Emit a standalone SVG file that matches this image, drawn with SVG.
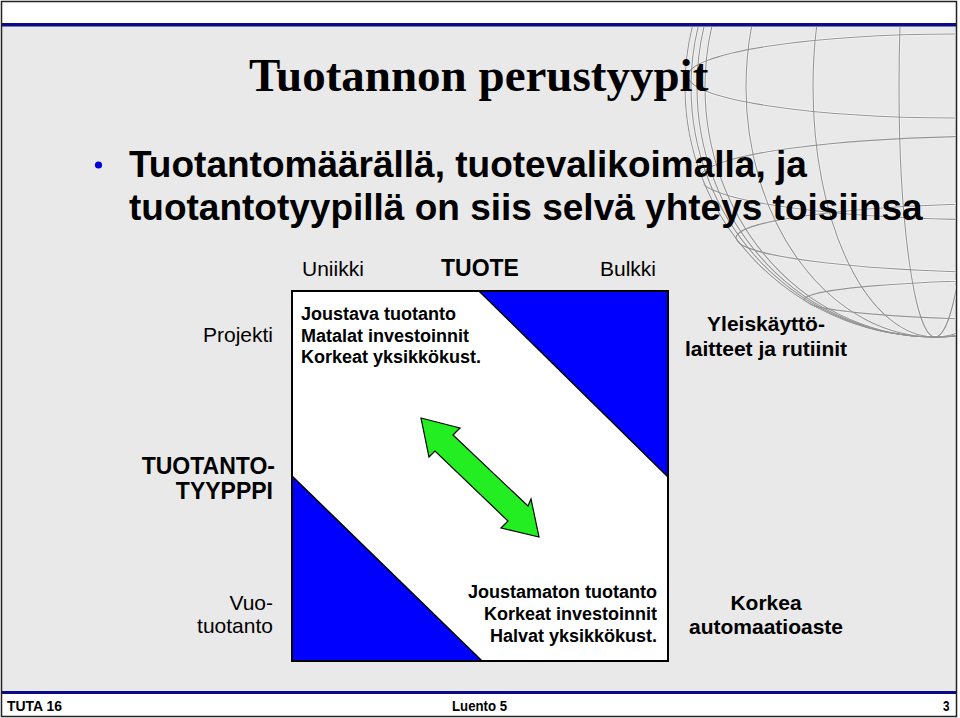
<svg xmlns="http://www.w3.org/2000/svg" width="960" height="718" viewBox="0 0 960 718">
<style>
.sans{font-family:"Liberation Sans",Arial,Helvetica,sans-serif;fill:#000}
.b{font-weight:bold}
.title{font-family:"Liberation Serif","Times New Roman",serif;font-weight:bold;font-size:47px;fill:#000}
.bul{font-size:37px}
.lbl{font-size:21px}
.box{font-size:18px}
.foot{font-size:15px}
.gw{fill:none;stroke:#ffffff;stroke-width:2.4;stroke-opacity:0.7}
.gl{fill:none;stroke:#939393;stroke-width:1.1}
</style>
<defs>
<clipPath id="globeClip">
<circle cx="935" cy="87" r="251"/>
</clipPath>
<clipPath id="areaClip">
<rect x="2" y="27" width="954" height="664"/>
</clipPath>
<g id="globeLines">
<circle cx="935" cy="87" r="250"/>
<ellipse cx="935" cy="87" rx="244" ry="250"/>
<ellipse cx="935" cy="87" rx="238" ry="250"/>
<ellipse cx="935" cy="87" rx="230" ry="250"/>
<ellipse cx="935" cy="87" rx="189" ry="250"/>
<ellipse cx="935" cy="87" rx="122" ry="250"/>
<ellipse cx="935" cy="87" rx="36" ry="250"/>
<ellipse cx="960" cy="76" rx="272" ry="42"/>
<ellipse cx="1010" cy="178" rx="310" ry="42"/>
<ellipse cx="1040" cy="238" rx="304" ry="35"/>
<ellipse cx="1040" cy="300" rx="236" ry="20"/>
</g>
</defs>

<!-- slide frame -->
<rect x="0" y="0" width="960" height="718" fill="#ffffff"/>
<rect x="2" y="26" width="954" height="665" fill="#e9e9e9"/>
<rect x="2" y="23" width="954" height="3.5" fill="#0a0a8a"/>
<rect x="2" y="691" width="954" height="3" fill="#0a0a8a"/>
<rect x="1.5" y="1.5" width="955" height="715" fill="none" stroke="#222" stroke-width="1.5"/>

<!-- globe decoration -->
<g id="globe" clip-path="url(#areaClip)">
<g clip-path="url(#globeClip)">
<use href="#globeLines" class="gw"/>
<use href="#globeLines" class="gl"/>
</g>
</g>

<g id="title">
<text class="title" x="249" y="91">Tuotannon perustyypit</text>
</g>

<g id="bullet">
<circle cx="98.5" cy="165" r="3.6" fill="#0000dd"/>
<text class="sans b bul" x="129" y="177">Tuotantomäärällä, tuotevalikoimalla, ja</text>
<text class="sans b bul" x="129" y="220">tuotantotyypillä on siis selvä yhteys toisiinsa</text>
</g>

<g id="axis-labels">
<text class="sans lbl" x="302" y="276">Uniikki</text>
<text class="sans b" x="480" y="276" font-size="23" text-anchor="middle">TUOTE</text>
<text class="sans lbl" x="600" y="276">Bulkki</text>
<text class="sans lbl" x="273" y="342" text-anchor="end">Projekti</text>
<text class="sans b" x="275" y="474" font-size="23" text-anchor="end">TUOTANTO-</text>
<text class="sans b" x="273" y="499" font-size="23" text-anchor="end">TYYPPPI</text>
<text class="sans lbl" x="273" y="610" text-anchor="end">Vuo-</text>
<text class="sans lbl" x="273" y="633" text-anchor="end">tuotanto</text>
</g>

<g id="matrix">
<rect x="292" y="291" width="376" height="370" fill="#ffffff" stroke="#000" stroke-width="2"/>
<polygon points="479,291 668,291 668,477" fill="#0000ff" stroke="#000" stroke-width="1.5"/>
<polygon points="292,476 292,661 482,661" fill="#0000ff" stroke="#000" stroke-width="1.5"/>
<rect x="292" y="291" width="376" height="370" fill="none" stroke="#000" stroke-width="2"/>
</g>

<g id="flexible">
<text class="sans b box" x="301" y="320">Joustava tuotanto</text>
<text class="sans b box" x="301" y="342">Matalat investoinnit</text>
<text class="sans b box" x="301" y="363">Korkeat yksikkökust.</text>
</g>

<g id="inflexible">
<text class="sans b box" x="657" y="598" text-anchor="end">Joustamaton tuotanto</text>
<text class="sans b box" x="657" y="620" text-anchor="end">Korkeat investoinnit</text>
<text class="sans b box" x="657" y="642" text-anchor="end">Halvat yksikkökust.</text>
</g>

<g id="general">
<text class="sans b lbl" x="766" y="331" text-anchor="middle">Yleiskäyttö-</text>
<text class="sans b lbl" x="766" y="356" text-anchor="middle">laitteet ja rutiinit</text>
</g>

<g id="automation">
<text class="sans b lbl" x="766" y="610" text-anchor="middle">Korkea</text>
<text class="sans b lbl" x="766" y="634" text-anchor="middle">automaatioaste</text>
</g>

<g id="connectors">
<polygon points="421,418 460,428 453,435 528,506 531,499 539,537 501,528 508,521 435,451 429,457" fill="#22ee22" stroke="#000" stroke-width="1.2"/>
</g>

<g id="footer">
<text class="sans b foot" x="7" y="711" textLength="55" lengthAdjust="spacingAndGlyphs">TUTA 16</text>
<text class="sans b foot" x="452" y="711" textLength="55" lengthAdjust="spacingAndGlyphs">Luento 5</text>
<text class="sans b foot" x="943" y="711" textLength="6.5" lengthAdjust="spacingAndGlyphs">3</text>
</g>
</svg>
